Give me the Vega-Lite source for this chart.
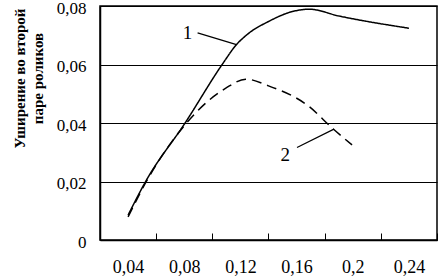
{
  "$schema": "https://vega.github.io/schema/vega-lite/v6.json",
  "width": 337,
  "height": 234,
  "autosize": "none",
  "padding": {"left": 100, "top": 6, "right": 2, "bottom": 40},
  "background": "white",
  "config": {
    "view": {"stroke": "black", "strokeWidth": 1.5},
    "font": "Liberation Serif",
    "axis": {
      "labelFont": "Liberation Serif",
      "labelFontSize": 18,
      "labelColor": "black",
      "domainColor": "black",
      "domainWidth": 1.5,
      "tickColor": "black",
      "titleColor": "black"
    }
  },
  "datasets": {
    "curves": [
      {"s": "1", "x": 0.04, "y": 0.0085},
      {"s": "1", "x": 0.0525, "y": 0.02},
      {"s": "1", "x": 0.0806, "y": 0.04},
      {"s": "1", "x": 0.107, "y": 0.06},
      {"s": "1", "x": 0.117, "y": 0.0667},
      {"s": "1", "x": 0.126, "y": 0.0707},
      {"s": "1", "x": 0.14, "y": 0.0747},
      {"s": "1", "x": 0.157, "y": 0.0781},
      {"s": "1", "x": 0.169, "y": 0.0789},
      {"s": "1", "x": 0.19, "y": 0.0766},
      {"s": "1", "x": 0.24, "y": 0.0724},
      {"s": "2", "x": 0.04, "y": 0.0079},
      {"s": "2", "x": 0.053, "y": 0.02},
      {"s": "2", "x": 0.0787, "y": 0.0383},
      {"s": "2", "x": 0.0965, "y": 0.0473},
      {"s": "2", "x": 0.1096, "y": 0.0519},
      {"s": "2", "x": 0.1238, "y": 0.055},
      {"s": "2", "x": 0.14, "y": 0.0527},
      {"s": "2", "x": 0.169, "y": 0.0456},
      {"s": "2", "x": 0.1855, "y": 0.0382},
      {"s": "2", "x": 0.1995, "y": 0.0325}
    ],
    "leaders": [
      {"x": 0.0895, "y": 0.0708, "x2": 0.1172, "y2": 0.0668},
      {"x": 0.1603, "y": 0.0316, "x2": 0.1866, "y2": 0.0379}
    ],
    "labels": [
      {"x": 0.0823, "y": 0.0709, "t": "1"},
      {"x": 0.152, "y": 0.0291, "t": "2"}
    ]
  },
  "layer": [
    {
      "data": {"name": "curves"},
      "mark": {"type": "line", "interpolate": "monotone", "color": "black", "strokeWidth": 1.5},
      "encoding": {
        "x": {
          "field": "x", "type": "quantitative",
          "scale": {"domain": [0.02, 0.26], "nice": false, "zero": false},
          "axis": {
            "title": null,
            "values": [0.04, 0.08, 0.12, 0.16, 0.2, 0.24],
            "labelExpr": "replace(format(datum.value, '.2~f'), '.', ',')",
            "tickOffset": 28,
            "labelOffset": -28,
            "tickSize": -7,
            "labelPadding": 25,
            "grid": false
          }
        },
        "y": {
          "field": "y", "type": "quantitative",
          "scale": {"domain": [0, 0.08], "nice": false},
          "axis": {
            "title": ["Уширение во второй", "паре   роликов"],
            "titleFont": "Liberation Serif",
            "titleFontSize": 15,
            "titleFontWeight": "bold",
            "titleAngle": -90,
            "titleAlign": "center",
            "titleBaseline": "alphabetic",
            "titleX": -76,
            "titleY": 72,
            "titleLineHeight": 18,
            "values": [0, 0.02, 0.04, 0.06, 0.08],
            "labelExpr": "replace(format(datum.value, '.2~f'), '.', ',')",
            "labelFontSize": 17,
            "labelOffset": 2,
            "tickSize": 0,
            "labelPadding": 14,
            "grid": true,
            "gridColor": "black",
            "gridWidth": 1.2,
            "gridOpacity": 1
          }
        },
        "strokeDash": {
          "field": "s", "type": "nominal",
          "scale": {"domain": ["1", "2"], "range": [[1, 0], [10, 6]]},
          "legend": null
        }
      }
    },
    {
      "data": {"name": "leaders"},
      "mark": {"type": "rule", "color": "black", "strokeWidth": 1.2},
      "encoding": {
        "x": {"field": "x", "type": "quantitative"},
        "y": {"field": "y", "type": "quantitative"},
        "x2": {"field": "x2"},
        "y2": {"field": "y2"}
      }
    },
    {
      "data": {"name": "labels"},
      "mark": {"type": "text", "font": "Liberation Serif", "fontSize": 19, "color": "black", "align": "center", "baseline": "middle"},
      "encoding": {
        "x": {"field": "x", "type": "quantitative"},
        "y": {"field": "y", "type": "quantitative"},
        "text": {"field": "t"}
      }
    }
  ]
}
